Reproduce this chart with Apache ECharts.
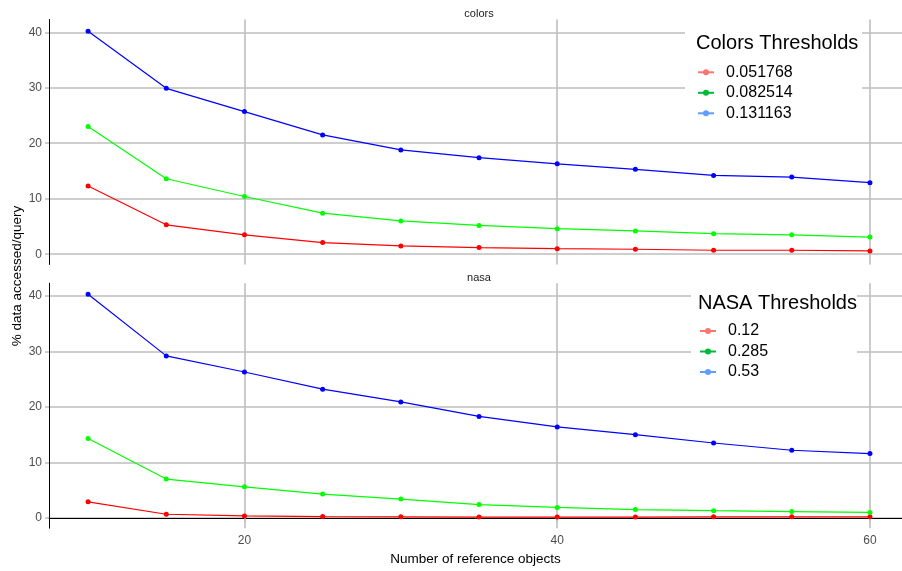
<!DOCTYPE html>
<html>
<head>
<meta charset="utf-8">
<script src="https://cdn.jsdelivr.net/npm/echarts@6/dist/echarts.min.js"></script>
<style>
  html, body { margin: 0; padding: 0; background: #fff; }
  #chart { width: 902px; height: 571px; }
</style>
</head>
<body>
<div id="chart"></div>
<script>
// number of reference objects (x)
const refObjects = [10, 15, 20, 25, 30, 35, 40, 45, 50, 55, 60]

// colors dataset, one array per threshold
const colorThresholds = ['0.051768', '0.082514', '0.131163']
const colorsLow = [12.3, 5.3, 3.5, 2.1, 1.5, 1.2, 1.0, 0.9, 0.72, 0.72, 0.6]
const colorsMid = [23.0, 13.6, 10.4, 7.4, 6.0, 5.2, 4.6, 4.2, 3.7, 3.5, 3.1]
const colorsHigh = [40.2, 29.9, 25.7, 21.5, 18.8, 17.4, 16.3, 15.3, 14.2, 13.9, 12.9]

// nasa dataset
const nasaThresholds = ['0.12', '0.285', '0.53']
const nasaLow = [2.9, 0.66, 0.36, 0.25, 0.2, 0.15, 0.15, 0.15, 0.2, 0.2, 0.2]
const nasaMid = [14.3, 7.0, 5.6, 4.3, 3.4, 2.4, 1.9, 1.5, 1.3, 1.15, 1.0]
const nasaHigh = [40.3, 29.2, 26.3, 23.2, 20.9, 18.3, 16.4, 15.0, 13.5, 12.2, 11.6]

const yTicks = [0, 10, 20, 30, 40]
const xTicks = [20, 40, 60]

const lineColors = ['#ff0000', '#00ff00', '#0000ff']
// the legend keys use ggplot's default hues, not the line colours
const keyColors = ['#F8766D', '#00BA38', '#619CFF']

const font = "'Liberation Sans', Arial, sans-serif"
const gridGray = '#bebebe'

const chart = echarts.init(document.getElementById('chart'))

function pairs(ys) {
  return refObjects.map((x, i) => [x, ys[i]])
}

function makeSeries(name, ys, idx, color) {
  return {
    name: name,
    type: 'line',
    xAxisIndex: idx,
    yAxisIndex: idx,
    data: pairs(ys),
    symbol: 'circle',
    symbolSize: 5,
    showSymbol: true,
    color: color,
    lineStyle: { width: 1.2, color: color },
    itemStyle: { color: color },
    z: 2,
    silent: true,
    animation: false,
  }
}

function xAxisOf(idx, showLabels) {
  return {
    type: 'value',
    gridIndex: idx,
    // panel is cut off at the right edge of the picture
    min: 7.5,
    max: 62.05,
    splitNumber: 3,
    axisLine: { show: showLabels, lineStyle: { color: '#000', width: 1 } },
    axisTick: { show: showLabels, length: 4, lineStyle: { color: gridGray, width: 1.5 } },
    axisLabel: {
      show: showLabels,
      margin: 6,
      color: '#4d4d4d',
      fontSize: 12,
      fontFamily: font,
      showMinLabel: false,
      showMaxLabel: false,
      formatter: (v) => (xTicks.includes(v) ? String(v) : ''),
    },
    splitLine: {
      show: true,
      showMinLine: false,
      showMaxLine: false,
      lineStyle: { color: gridGray, width: 1.6 },
    },
    name: showLabels ? 'Number of reference objects' : '',
    nameLocation: 'middle',
    nameGap: 24,
    nameTextStyle: { color: '#000', fontSize: 13.5, fontFamily: font },
  }
}

function yAxisOf(idx) {
  return {
    type: 'value',
    gridIndex: idx,
    min: -1.85,
    max: 42.3,
    splitNumber: 5,
    axisLine: { show: true, lineStyle: { color: '#000', width: 1 } },
    axisTick: { show: true, length: 4, lineStyle: { color: gridGray, width: 1.5 } },
    axisLabel: {
      margin: 7,
      color: '#4d4d4d',
      fontSize: 12,
      fontFamily: font,
      showMinLabel: false,
      showMaxLabel: false,
      formatter: (v) => (yTicks.includes(v) ? String(v) : ''),
    },
    splitLine: {
      show: true,
      showMinLine: false,
      showMaxLine: false,
      lineStyle: { color: gridGray, width: 1.6 },
    },
  }
}

function legendOf(names, left, top) {
  return {
    orient: 'vertical',
    left: left,
    top: top,
    padding: 0,
    itemWidth: 16,
    itemHeight: 7.5,
    itemGap: 0.5,
    selectedMode: false,
    textStyle: { fontSize: 16, color: '#000', fontFamily: font, lineHeight: 20, padding: [0, 0, 0, 7] },
    data: names.map((n, i) => ({
      name: n,
      itemStyle: { color: keyColors[i] },
      lineStyle: { color: keyColors[i], width: 2 },
    })),
  }
}

function label(text, x, y, size, align, rotation) {
  return {
    type: 'text',
    z: 10,
    x: x,
    y: y,
    rotation: rotation || 0,
    style: {
      text: text, x: 0, y: 0,
      fill: size < 12 ? '#1a1a1a' : '#000',
      font: size + 'px ' + font,
      align: align,
      verticalAlign: 'middle',
    },
  }
}

const option = {
  backgroundColor: '#fff',
  animation: false,
  grid: [
    { left: 49, top: 19.5, right: 0, height: 245, containLabel: false },
    { left: 49, top: 283.2, right: 0, height: 245, containLabel: false },
  ],
  xAxis: [xAxisOf(0, false), xAxisOf(1, true)],
  yAxis: [yAxisOf(0), yAxisOf(1)],
  legend: [
    legendOf(colorThresholds, 697, 62.3),
    legendOf(nasaThresholds, 699, 321),
  ],
  graphic: {
    elements: [
      // legend backgrounds hide the grid lines behind them
      { type: 'rect', z: 1, shape: { x: 685, y: 25, width: 177, height: 104 }, style: { fill: '#fff' } },
      { type: 'rect', z: 1, shape: { x: 691, y: 286, width: 166, height: 103 }, style: { fill: '#fff' } },
      label('colors', 479, 14, 11, 'center'),
      label('nasa', 479, 278.3, 11, 'center'),
      label('Colors Thresholds', 696, 43, 20, 'left'),
      label('NASA Thresholds', 698, 303, 20, 'left'),
      label('% data accessed/query', 17, 276, 13.5, 'center', Math.PI / 2),
    ],
  },
  series: [
    makeSeries(colorThresholds[0], colorsLow, 0, lineColors[0]),
    makeSeries(colorThresholds[1], colorsMid, 0, lineColors[1]),
    makeSeries(colorThresholds[2], colorsHigh, 0, lineColors[2]),
    makeSeries(nasaThresholds[0], nasaLow, 1, lineColors[0]),
    makeSeries(nasaThresholds[1], nasaMid, 1, lineColors[1]),
    makeSeries(nasaThresholds[2], nasaHigh, 1, lineColors[2]),
  ],
}

chart.setOption(option)
</script>
</body>
</html>
